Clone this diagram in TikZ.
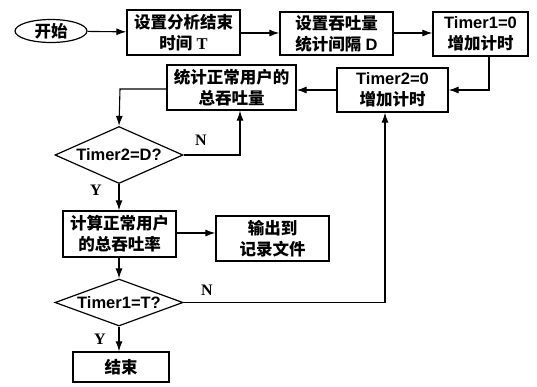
\documentclass[tikz,border=0pt]{standalone}
\usepackage{fontspec}
\setmainfont{Liberation Serif}
\newfontfamily\cjk{Noto Sans CJK SC}
\newfontfamily\lsans{Liberation Sans}
\usetikzlibrary{shapes.geometric,arrows.meta}
\newcommand\zh[1]{{\cjk\bfseries #1}}
\newcommand\ls[1]{{\lsans\bfseries #1}}
\tikzset{
  box/.style={draw,line width=1.3pt,rectangle,inner sep=0pt,align=center,
    font=\fontsize{16.5}{21}\selectfont},
  dia/.style={draw,line width=1.2pt,diamond,inner sep=0pt,
    font=\fontsize{16.5}{20}\selectfont},
  conn/.style={line width=1.1pt,-{Latex[length=10pt,width=7pt]}},
  lab/.style={font=\fontsize{16}{18}\selectfont\bfseries}
}
\begin{document}
\begin{tikzpicture}[x=1pt,y=-1pt]
\useasboundingbox (0,0) rectangle (537,386);
\node[draw,line width=1.2pt,ellipse,minimum width=72pt,minimum height=23pt,inner sep=0pt,
  font=\fontsize{16.5}{18}\selectfont] (start) at (51,31) {\zh{开始}};
\node[box,minimum width=113pt,minimum height=45pt] (b1) at (183.5,32.5) {\zh{设置分析结束}\\\zh{时间} \textbf{T}};
\node[box,minimum width=113pt,minimum height=43pt] (b2) at (336.5,33.5) {\zh{设置吞吐量}\\\zh{统计间隔} \ls{D}};
\node[box,minimum width=95pt,minimum height=44pt] (b3) at (480.5,34) {\ls{\fontsize{16.5}{21}\selectfont Timer1=0}\\\zh{增加计时}};
\node[box,minimum width=111pt,minimum height=44pt] (b4) at (392.5,90) {\ls{\fontsize{16.5}{21}\selectfont Timer2=0}\\\zh{增加计时}};
\node[box,minimum width=129pt,minimum height=45pt] (b5) at (231.5,87.5) {\zh{统计正常用户的}\\\zh{总吞吐量}};
\node[dia,aspect=2.25,minimum width=128pt,minimum height=57pt] (d1) at (119,155) {\ls{Timer2=D?}};
\node[box,minimum width=113pt,minimum height=46pt] (b6) at (119.5,234) {\zh{计算正常用户}\\\zh{的总吞吐率}};
\node[box,minimum width=113pt,minimum height=45pt] (b7) at (272.5,238.5) {\zh{输出到}\\\zh{记录文件}};
\node[dia,aspect=2.72,minimum width=128pt,minimum height=47pt] (d2) at (119,302.5) {\ls{Timer1=T?}};
\node[box,minimum width=96pt,minimum height=30pt] (end) at (121,367) {\zh{结束}};

\coordinate (c1) at (489,90);
\coordinate (c2) at (120,89);
\coordinate (c3) at (240,155);
\coordinate (c4) at (385,302.5);

\draw[conn] (start) -- (b1);
\draw[conn] (b1.east |- 0,33) -- (b2.west |- 0,33);
\draw[conn] (b2.east |- 0,33) -- (b3.west |- 0,33);
\draw[conn] (b3.south -| c1) -- (c1) -- (b4.east |- c1);
\draw[conn] (b4.west) -- (b5.east |- b4.west);
\draw[conn] (b5.west |- c2) -- (c2) -- (d1.north);
\draw[conn] (d1.east) -- (c3) -- (b5.south -| c3);
\draw[conn] (d1.south) -- (b6.north -| d1.south);
\draw[conn] (b6.east |- 0,233) -- (b7.west |- 0,233);
\draw[conn] (b6.south -| d2.north) -- (d2.north);
\draw[conn] (d2.south) -- (end.north -| d2.south);
\draw[conn] (d2.east) -- (c4) -- (b4.south -| c4);

\node[lab] (n1) at (201,140) {N};
\node[lab] (y1) at (96,190) {Y};
\node[lab] (n2) at (207,290) {N};
\node[lab] (y2) at (100,339) {Y};
\end{tikzpicture}
\end{document}
